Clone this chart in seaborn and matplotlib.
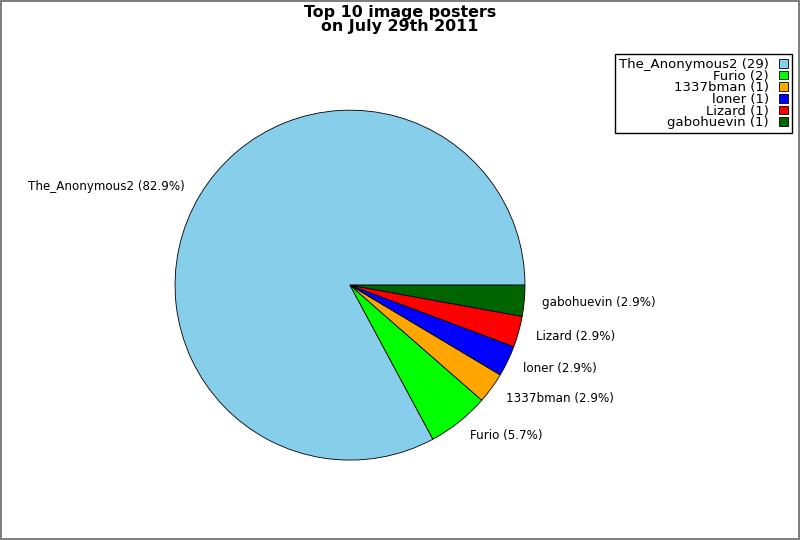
import matplotlib
matplotlib.use("Agg")
import matplotlib.pyplot as plt
import seaborn as sns

# データ
posters = ["The_Anonymous2", "Furio", "1337bman", "loner", "Lizard", "gabohuevin"]
counts = [29, 2, 1, 1, 1, 1]
colors = ["skyblue", "lime", "orange", "blue", "red", "darkgreen"]

sns.set_style("white")
plt.rcParams["font.family"] = ["DejaVu Sans"]
plt.rcParams["text.color"] = "black"

total = sum(counts)
pie_labels = [f"{p} ({c / total * 100:.1f}%)" for p, c in zip(posters, counts)]
legend_labels = [f"{p} ({c})" for p, c in zip(posters, counts)]

fig = plt.figure(figsize=(8, 5.4), dpi=100, edgecolor="gray", linewidth=1.5)
ax = fig.add_axes([0.21875, 0.148, 0.4375, 0.648])

wedges, texts = ax.pie(counts, labels=pie_labels, colors=sns.color_palette(colors),
                       startangle=0, counterclock=True, labeldistance=1.1,
                       wedgeprops=dict(edgecolor="black", linewidth=0.6),
                       textprops=dict(fontsize=8.6, color="black"))
ax.set_xlim(-1, 1)
ax.set_ylim(-1, 1)
ax.set_aspect("equal")
ax.axis("off")

fig.suptitle("Top 10 image posters\non July 29th 2011", fontsize=11.4, fontweight="bold",
             y=0.99, linespacing=0.85, color="black")

leg = fig.legend(wedges, legend_labels, loc="upper right", bbox_to_anchor=(0.99, 0.9),
                 markerfirst=False, fancybox=False, edgecolor="black", framealpha=1,
                 fontsize=9.5, handlelength=0.65, handleheight=0.65, handletextpad=0.8,
                 labelspacing=-0.1, borderpad=0.3, borderaxespad=0)
for t in leg.get_texts():
    t.set_ha("right")
    t.set_color("black")
leg.get_frame().set_linewidth(1)

fig.savefig("out.png", dpi=100, edgecolor=fig.get_edgecolor())
